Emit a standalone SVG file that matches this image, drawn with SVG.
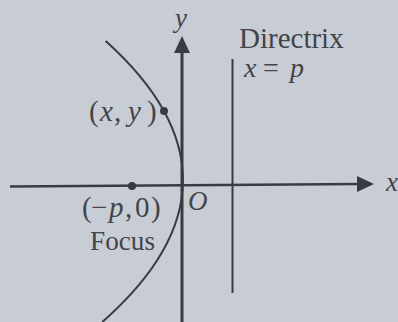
<svg xmlns="http://www.w3.org/2000/svg" width="398" height="322" viewBox="0 0 398 322">
<style>
.ln{stroke:#3a3b40;fill:none;stroke-linecap:butt}
.ah{fill:#3a3b40}
.t{font-family:"Liberation Serif","Times New Roman",serif;fill:#434448}
.i{font-style:italic}
</style>
<rect width="398" height="322" fill="#c8cdd5"/>
<g id="connectors">
<path class="ln" d="M105.7,41 Q261.9,181.5 102.3,322" stroke-width="2"/>
<line class="ln" x1="10" y1="186.5" x2="360" y2="184" stroke-width="2.6"/>
<polygon class="ah" points="374,184 357,176 357,192"/>
<line class="ln" x1="182" y1="322" x2="182" y2="50" stroke-width="3"/>
<polygon class="ah" points="182,36 174,53 190,53"/>
</g>
<g id="directrix">
<line class="ln" x1="232.5" y1="59" x2="232.5" y2="293" stroke-width="2"/>
<text class="t" x="239" y="48" font-size="29">Directrix</text>
<text class="t i" y="77" font-size="28"><tspan x="244">x</tspan><tspan x="263" font-style="normal">=</tspan><tspan x="290">p</tspan></text>
</g>
<g id="point">
<circle cx="164" cy="111" r="4" fill="#3a3b40"/>
<text class="t" y="121" font-size="29"><tspan x="89">(</tspan><tspan x="100" class="i">x</tspan><tspan x="114">,</tspan><tspan x="128" class="i">y</tspan><tspan x="147">)</tspan></text>
</g>
<g id="focus">
<circle cx="132" cy="186" r="4" fill="#3a3b40"/>
<text class="t" y="217" font-size="29"><tspan x="82">(</tspan><tspan x="91">−</tspan><tspan x="109" class="i">p</tspan><tspan x="125">,</tspan><tspan x="135">0</tspan><tspan x="151">)</tspan></text>
<text class="t" x="90" y="250" font-size="28" textLength="65" lengthAdjust="spacingAndGlyphs">Focus</text>
</g>
<g id="labels">
<text class="t i" x="175" y="27" font-size="27">y</text>
<text class="t i" x="386" y="191" font-size="27">x</text>
<text class="t i" x="188" y="210" font-size="27">O</text>
</g>
</svg>
